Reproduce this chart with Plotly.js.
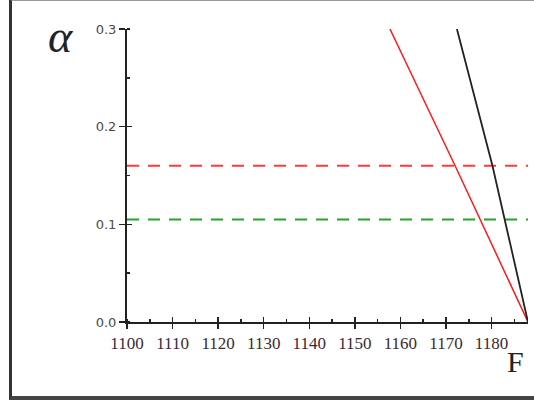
<!DOCTYPE html>
<html>
<head>
<meta charset="utf-8">
<script src="https://cdn.plot.ly/plotly-3.0.1.min.js"></script>
<style>
html,body{margin:0;padding:0;background:#fff;overflow:hidden;}
#frame{position:absolute;left:9px;top:-1px;width:540px;height:395px;border-left:3px solid #333;border-bottom:4px solid #444;border-top:2px solid #999;box-sizing:content-box;}
#chart{position:absolute;left:0;top:0;width:534px;height:401px;}
</style>
</head>
<body>
<div id="frame"></div>
<div id="chart"></div>
<script>
// Data
const xTicks = [1100, 1110, 1120, 1130, 1140, 1150, 1160, 1170, 1180];
const yTicks = [0, 0.1, 0.2, 0.3];
const yTickText = ['0.0', '0.1', '0.2', '0.3'];
const redF = [1157.7, 1172.0, 1188];
const redAlpha = [0.3, 0.16, 0];
const blackF = [1172.4, 1180.2, 1188];
const blackAlpha = [0.3, 0.16, 0];
const dashF = [1100, 1188];
const redLevel = 0.16;
const greenLevel = 0.105;

const traces = [
  {x: dashF, y: [redLevel, redLevel], mode: 'lines', line: {color: '#ff3b3b', width: 2, dash: '12px,9px'}, hoverinfo: 'skip'},
  {x: dashF, y: [greenLevel, greenLevel], mode: 'lines', line: {color: '#2ea02e', width: 2, dash: '12px,9px'}, hoverinfo: 'skip'},
  {x: redF, y: redAlpha, mode: 'lines', line: {color: '#ff1a1a', width: 1.5}, hoverinfo: 'skip'},
  {x: blackF, y: blackAlpha, mode: 'lines', line: {color: '#222', width: 1.8}, hoverinfo: 'skip'},
  // empty trace so the overlay axes (inner half of the crossing ticks) are drawn
  {x: [], y: [], xaxis: 'x2', yaxis: 'y2', mode: 'lines', hoverinfo: 'skip'}
];

const layout = {
  width: 534, height: 401,
  margin: {l: 127, r: 6, t: 29, b: 79},
  paper_bgcolor: 'rgba(0,0,0,0)',
  plot_bgcolor: 'rgba(0,0,0,0)',
  showlegend: false,
  xaxis: {
    range: [1100, 1188], tickvals: xTicks, ticks: 'outside', ticklen: 5, tickwidth: 1.5, tickcolor: '#222',
    showline: true, linewidth: 2, linecolor: '#222', showgrid: false, zeroline: false,
    tickfont: {family: 'Liberation Serif', size: 17, color: '#3a2a35'},
    minor: {dtick: 5, tick0: 1100, ticks: 'inside', ticklen: 3, tickwidth: 1.5, tickcolor: '#222', showgrid: false}
  },
  xaxis2: {
    overlaying: 'x', anchor: 'y2', side: 'bottom', range: [1100, 1188], tickvals: xTicks,
    ticks: 'inside', ticklen: 5, tickwidth: 1.5, tickcolor: '#222', showticklabels: false,
    showline: false, showgrid: false, zeroline: false
  },
  yaxis: {
    range: [0, 0.3], tickvals: yTicks, ticktext: yTickText, ticks: 'outside', ticklen: 6, tickwidth: 1.5, tickcolor: '#222',
    showline: true, linewidth: 2, linecolor: '#222', showgrid: false, zeroline: false,
    tickfont: {family: 'DejaVu Sans', size: 13, color: '#4a4a4a'},
    minor: {dtick: 0.05, tick0: 0, ticks: 'inside', ticklen: 3, tickwidth: 1.5, tickcolor: '#222', showgrid: false}
  },
  yaxis2: {
    overlaying: 'y', anchor: 'x2', side: 'left', range: [0, 0.3], tickvals: yTicks,
    ticks: 'inside', ticklen: 5, tickwidth: 1.5, tickcolor: '#222', showticklabels: false,
    showline: false, showgrid: false, zeroline: false
  },
  annotations: [
    {text: 'α', xref: 'paper', yref: 'paper', x: -0.167, y: 0.976, xanchor: 'center', yanchor: 'middle', showarrow: false,
     font: {family: 'Liberation Serif', size: 46, color: '#222', style: 'italic'}},
    {text: 'F', xref: 'paper', yref: 'paper', x: 0.970, y: -0.1365, xanchor: 'center', yanchor: 'middle', showarrow: false,
     font: {family: 'Liberation Serif', size: 30, color: '#222'}}
  ]
};

Plotly.newPlot('chart', traces, layout, {displayModeBar: false, staticPlot: true});
</script>
</body>
</html>
